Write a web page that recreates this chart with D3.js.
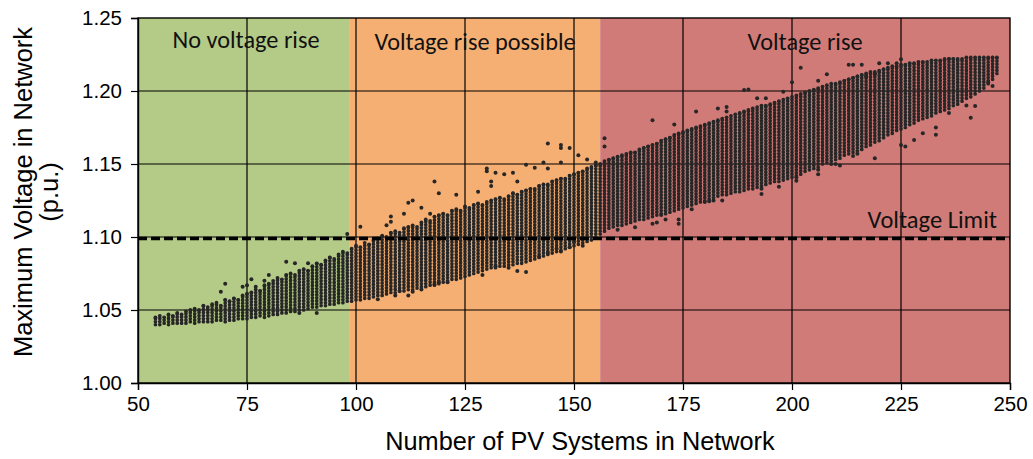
<!DOCTYPE html>
<html><head><meta charset="utf-8">
<script src="https://cdn.jsdelivr.net/npm/d3@7"></script>
<style>
html,body{margin:0;padding:0;background:#fff;}
svg{display:block;}
</style></head>
<body>
<svg id="chart" width="1033" height="459"></svg>
<script>
// ---------------- DATA ----------------
const xTicks = [50, 75, 100, 125, 150, 175, 200, 225, 250];
const yTicks = [1.00, 1.05, 1.10, 1.15, 1.20, 1.25];
const regionNames = ["No voltage rise", "Voltage rise possible", "Voltage rise"];
const regionStarts = [50, 98.6, 156];
const regionEnds = [98.6, 156, 250];
const voltageLimit = 1.099;
const limitLabel = "Voltage Limit";
const xTitle = "Number of PV Systems in Network";
const yTitle = ["Maximum Voltage in Network", "(p.u.)"];

// PV system counts 54..247 and, for each, the lowest / highest simulated voltage of the dense column
const pvFirst = 54;
const columnLow = [
 1.040,1.040,1.041,1.040,1.041,1.041,1.041,
 1.041,1.042,1.041,1.042,1.042,1.042,
 1.042,1.043,1.043,1.042,1.043,
 1.043,1.044,1.044,1.044,
 1.045,1.045,1.046,1.045,1.046,1.047,1.047,
 1.048,1.048,1.049,1.049,1.050,1.050,1.051,1.052,
 1.052,1.053,1.053,1.054,1.054,1.055,
 1.055,1.056,1.056,1.057,1.057,1.058,1.058,1.059,
 1.060,1.060,1.061,1.062,1.062,1.063,1.063,1.064,
 1.064,1.065,1.066,1.066,1.067,1.067,1.068,
 1.069,1.070,1.071,1.071,1.072,1.073,
 1.074,1.075,1.076,1.077,1.078,1.079,
 1.079,1.080,1.080,1.081,1.081,1.082,1.082,
 1.083,1.084,1.085,1.086,1.087,1.088,1.089,1.090,
 1.091,1.092,1.093,1.094,1.095,1.096,1.097,1.098,
 1.100,1.102,1.104,1.106,
 1.107,1.108,1.108,1.109,1.110,1.111,1.112,
 1.112,1.113,1.114,1.115,1.116,1.116,1.117,1.118,1.119,1.120,
 1.121,1.122,1.123,1.124,1.125,1.126,1.127,1.128,1.129,
 1.129,1.130,1.131,1.131,1.132,1.133,1.133,1.134,
 1.135,1.136,1.137,1.138,1.138,1.139,1.140,1.141,
 1.142,1.143,1.145,1.146,1.147,1.148,1.150,
 1.151,1.152,1.153,1.154,1.156,1.157,1.158,1.159,
 1.160,1.162,1.163,1.165,1.166,1.168,1.170,
 1.171,1.173,1.174,1.175,1.177,1.178,1.180,1.181,
 1.182,1.183,1.185,1.186,1.187,1.188,1.190,1.191,
 1.193,1.195,1.196,1.198,1.200,1.202,1.205,1.208,1.212
];
const columnHigh = [
 1.045,1.046,1.045,1.047,1.046,1.048,1.047,
 1.049,1.050,1.051,1.050,1.053,1.052,
 1.054,1.055,1.053,1.057,1.056,
 1.058,1.057,1.060,1.061,
 1.062,1.064,1.063,1.067,1.068,1.070,1.072,
 1.071,1.074,1.075,1.074,1.077,1.078,1.077,1.080,
 1.082,1.081,1.084,1.086,1.085,1.088,
 1.090,1.089,1.092,1.094,1.093,1.096,1.095,1.098,
 1.099,1.101,1.100,1.103,1.104,1.103,1.106,1.107,
 1.108,1.107,1.110,1.112,1.111,1.114,1.115,
 1.116,1.115,1.118,1.119,1.118,1.121,
 1.120,1.122,1.123,1.122,1.124,1.125,
 1.126,1.127,1.126,1.128,1.130,1.129,1.131,
 1.132,1.133,1.133,1.135,1.136,1.136,1.138,1.139,
 1.140,1.140,1.142,1.143,1.144,1.145,1.147,1.148,
 1.149,1.150,1.152,1.153,
 1.154,1.155,1.156,1.157,1.158,1.158,1.160,
 1.161,1.162,1.163,1.164,1.166,1.167,1.168,1.170,1.171,1.172,
 1.173,1.174,1.175,1.176,1.177,1.178,1.179,1.180,1.181,
 1.182,1.183,1.184,1.185,1.186,1.187,1.188,1.189,
 1.190,1.190,1.191,1.192,1.193,1.194,1.195,1.196,
 1.197,1.198,1.199,1.200,1.201,1.202,1.203,
 1.204,1.205,1.205,1.206,1.207,1.208,1.209,1.210,
 1.211,1.212,1.213,1.213,1.214,1.215,1.216,
 1.217,1.217,1.218,1.218,1.219,1.219,1.220,1.220,
 1.220,1.221,1.221,1.221,1.222,1.222,1.222,1.222,
 1.222,1.223,1.223,1.223,1.223,1.223,1.223,1.223,1.223
];
// scattered cases outside the dense columns
const outlierPV = [
 69,70,74,75,76,77,79,80,84,86,89,87,91,
 98,101,107,108,108,111,112,113,115,117,118,119,123,
 128,130,130,131,131,132,134,136,137,139,141,143,144,144,147,147,147,149,151,153,155,
 105,109,110,112,113,115,118,119,121,129,132,135,137,139,142,144,146,147,149,150,152,
 157,157,168,173,178,183,185,185,189,190,192,194,198,200,202,206,208,213,214,216,220,222,224,225,217,219,
 160,164,168,169,170,171,174,174,177,180,181,182,184,193,193,197,201,201,206,206,209,210,211,214,215,219,225,226,228,230,233,233,236,240,242,241,246,245
];
const outlierV = [
 1.0625,1.068,1.066,1.067,1.071,1.066,1.070,1.074,1.083,1.082,1.082,1.048,1.048,
 1.102,1.107,1.108,1.114,1.1105,1.116,1.1235,1.125,1.120,1.116,1.138,1.130,1.129,
 1.131,1.147,1.145,1.138,1.135,1.144,1.143,1.144,1.138,1.1495,1.1475,1.151,1.164,1.147,1.163,1.161,1.151,1.161,1.156,1.153,1.151,
 1.0573,1.060,1.063,1.060,1.0625,1.064,1.0676,1.069,1.069,1.074,1.080,1.079,1.0767,1.076,1.0865,1.089,1.092,1.090,1.093,1.097,1.094,
 1.1676,1.162,1.180,1.177,1.186,1.188,1.189,1.186,1.2007,1.201,1.195,1.195,1.1995,1.206,1.216,1.207,1.2115,1.218,1.218,1.218,1.219,1.219,1.219,1.2217,1.210,1.2115,
 1.105,1.1066,1.109,1.110,1.115,1.112,1.109,1.112,1.119,1.124,1.1245,1.125,1.125,1.133,1.1295,1.1345,1.1385,1.141,1.143,1.146,1.150,1.150,1.149,1.1555,1.157,1.154,1.163,1.162,1.1665,1.171,1.175,1.170,1.185,1.190,1.1897,1.1817,1.2034,1.206
];

// ---------------- LAYOUT ----------------
const M = {left: 138, right: 1010, top: 18, bottom: 383};
const svg = d3.select("#chart");
const x = d3.scaleLinear().domain([50, 250]).range([M.left, M.right]);
const y = d3.scaleLinear().domain([1.00, 1.25]).range([M.bottom, M.top]);
const regionColors = ["#b4ca87", "#f6af73", "#d07b77"];
const tickFont = "'Liberation Sans', Arial, sans-serif";
const labelFont = "Carlito, Lato, 'Open Sans', sans-serif";

// background regions
svg.append("g").selectAll("rect").data(regionNames).join("rect")
  .attr("x", (d, i) => x(regionStarts[i]))
  .attr("y", y(1.25))
  .attr("width", (d, i) => x(regionEnds[i]) - x(regionStarts[i]))
  .attr("height", y(1.00) - y(1.25))
  .attr("fill", (d, i) => regionColors[i]);

// gridlines
const grid = svg.append("g").attr("stroke", "#000").attr("stroke-width", 1.2);
grid.selectAll("line.h").data(yTicks.slice(1, -1)).join("line").attr("class", "h")
  .attr("x1", M.left).attr("x2", M.right)
  .attr("y1", d => y(d)).attr("y2", d => y(d));
grid.selectAll("line.v").data(xTicks.slice(1, -1)).join("line").attr("class", "v")
  .attr("y1", M.top).attr("y2", M.bottom)
  .attr("x1", d => x(d)).attr("x2", d => x(d));

// region labels
const labelCenters = [246, 475, 805];
const labelBaselines = [48, 50, 50];
svg.append("g").selectAll("text").data(regionNames).join("text")
  .attr("x", (d, i) => labelCenters[i])
  .attr("y", (d, i) => labelBaselines[i])
  .attr("text-anchor", "middle")
  .attr("font-family", labelFont).attr("font-size", 24.3).attr("fill", "#111")
  .text(d => d);

// scatter columns
const dotColor = "#262626";
const cols = svg.append("g");
cols.selectAll("line").data(columnLow).join("line")
  .attr("x1", (d, i) => x(pvFirst + i)).attr("x2", (d, i) => x(pvFirst + i))
  .attr("y1", d => y(d)).attr("y2", (d, i) => y(columnHigh[i]))
  .attr("stroke", dotColor).attr("stroke-width", 3.7)
  .attr("stroke-linecap", "round").attr("stroke-dasharray", "0 3.1");
cols.selectAll("circle.hi").data(columnHigh).join("circle").attr("class", "hi")
  .attr("cx", (d, i) => x(pvFirst + i)).attr("cy", d => y(d)).attr("r", 1.9).attr("fill", dotColor);
svg.append("g").selectAll("circle").data(outlierV).join("circle")
  .attr("cx", (d, i) => x(outlierPV[i])).attr("cy", d => y(d)).attr("r", 2.0).attr("fill", dotColor);

// voltage limit
svg.append("line")
  .attr("x1", M.left).attr("x2", M.right)
  .attr("y1", y(voltageLimit)).attr("y2", y(voltageLimit))
  .attr("stroke", "#000").attr("stroke-width", 3.4).attr("stroke-dasharray", "9 4");
svg.append("text").attr("x", 997).attr("y", 228).attr("text-anchor", "end")
  .attr("font-family", labelFont).attr("font-size", 24.5).attr("fill", "#111")
  .text(limitLabel);

// frame
svg.append("rect").attr("x", M.left).attr("y", M.top)
  .attr("width", M.right - M.left).attr("height", M.bottom - M.top)
  .attr("fill", "none").attr("stroke", "#000").attr("stroke-width", 1.4);

// axes
const xAxis = svg.append("g").attr("transform", `translate(0,${M.bottom})`)
  .call(d3.axisBottom(x).tickValues(xTicks).tickFormat(d3.format("d")).tickSize(7).tickPadding(6));
const yAxis = svg.append("g").attr("transform", `translate(${M.left},0)`)
  .call(d3.axisLeft(y).tickValues(yTicks).tickFormat(d3.format(".2f")).tickSize(7).tickPadding(9));
[xAxis, yAxis].forEach(a => {
  a.select(".domain").attr("stroke", "#000").attr("stroke-width", 1.4);
  a.selectAll(".tick line").attr("stroke", "#000").attr("stroke-width", 1.2);
  a.selectAll(".tick text").attr("font-family", tickFont).attr("font-size", 20.5).attr("fill", "#000");
});

// axis titles
svg.append("text").attr("x", 580).attr("y", 450)
  .attr("text-anchor", "middle").attr("font-family", tickFont).attr("font-size", 25.3).attr("fill", "#000")
  .text(xTitle);
const yt = svg.append("text").attr("transform", "translate(0,192) rotate(-90)")
  .attr("text-anchor", "middle").attr("font-family", tickFont).attr("font-size", 25.5).attr("fill", "#000");
yt.append("tspan").attr("x", 0).attr("y", 32).text(yTitle[0]);
yt.append("tspan").attr("x", 0).attr("y", 58).text(yTitle[1]);
</script>
</body></html>
